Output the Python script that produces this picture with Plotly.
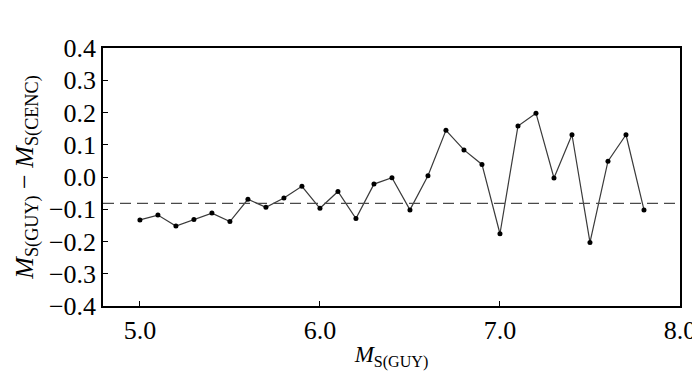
import plotly.graph_objects as go

ms_guy = [5.0, 5.1, 5.2, 5.3, 5.4, 5.5, 5.6, 5.7, 5.8, 5.9,
          6.0, 6.1, 6.2, 6.3, 6.4, 6.5, 6.6, 6.7, 6.8, 6.9,
          7.0, 7.1, 7.2, 7.3, 7.4, 7.5, 7.6, 7.7, 7.8]
diff = [-0.133, -0.118, -0.152, -0.132, -0.112, -0.138, -0.069, -0.094, -0.065, -0.029,
        -0.097, -0.045, -0.129, -0.022, -0.002, -0.102, 0.004, 0.145, 0.084, 0.039,
        -0.176, 0.158, 0.198, -0.003, 0.131, -0.203, 0.049, 0.131, -0.102]
mean_diff = -0.082

x_ticks = [5.0, 6.0, 7.0, 8.0]
x_tick_labels = ["5.0", "6.0", "7.0", "8.0"]
y_ticks = [-0.4, -0.3, -0.2, -0.1, 0.0, 0.1, 0.2, 0.3, 0.4]

FONT = "Liberation Serif"

fig = go.Figure()
fig.add_trace(go.Scatter(
    x=ms_guy, y=diff, mode="lines+markers",
    line=dict(color="#3a3a3a", width=1.2),
    marker=dict(color="black", size=5),
    showlegend=False,
))
fig.add_hline(y=mean_diff, line=dict(color="#4a4a4a", width=1.3, dash="11px,6px"))

fig.update_layout(
    width=700, height=385,
    margin=dict(l=95, r=25, t=40, b=87),
    paper_bgcolor="white", plot_bgcolor="white",
    font=dict(family=FONT, color="black", size=26),
)
fig.update_xaxes(
    range=[4.795, 8.0], tickvals=x_ticks, ticktext=x_tick_labels,
    ticks="inside", ticklen=5, tickwidth=1.2, tickcolor="black",
    showline=True, linecolor="black", linewidth=1.5, mirror=True,
    showgrid=False, zeroline=False,
    tickfont=dict(size=26, family=FONT),
    title=dict(text="<i>M</i><sub>S(GUY)</sub>", font=dict(size=23, family=FONT), standoff=2),
)
fig.update_yaxes(
    range=[-0.4, 0.4], tickvals=y_ticks, tickformat=".1f",
    ticks="inside", ticklen=5, tickwidth=1.2, tickcolor="black",
    showline=True, linecolor="black", linewidth=1.5, mirror=True,
    showgrid=False, zeroline=False,
    tickfont=dict(size=26, family=FONT),
    title=dict(text="<i>M</i><sub>S(GUY)</sub> − <i>M</i><sub>S(CENC)</sub>",
               font=dict(size=26, family=FONT), standoff=8),
)

fig.write_html("out.html")
